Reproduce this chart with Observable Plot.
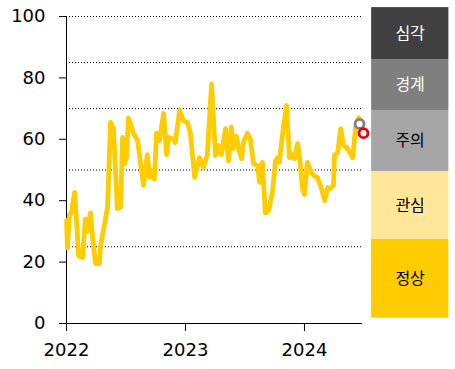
<!DOCTYPE html>
<html>
<head>
<meta charset="utf-8">
<script src="https://cdn.jsdelivr.net/npm/d3@7"></script>
<script src="https://cdn.jsdelivr.net/npm/@observablehq/plot@0.6"></script>
<style>
  html, body { margin: 0; padding: 0; background: #fff; }
</style>
</head>
<body>
<div id="chart"></div>
<script>
// ---- data ----
const dates = [
  "2022-01-01","2022-01-04","2022-01-10","2022-01-16","2022-01-26","2022-02-01","2022-02-07","2022-02-19",
  "2022-02-28","2022-03-06","2022-03-16","2022-03-22","2022-03-31","2022-04-12","2022-04-15","2022-05-07",
  "2022-05-16","2022-05-25","2022-06-06","2022-06-16","2022-06-22","2022-06-28","2022-07-04","2022-07-10",
  "2022-07-25","2022-08-07","2022-08-25","2022-09-06","2022-09-13","2022-09-22","2022-09-28","2022-10-04",
  "2022-10-13","2022-10-26","2022-11-04","2022-11-10","2022-11-25","2022-12-01","2022-12-14","2022-12-26",
  "2023-01-07","2023-01-16","2023-01-29","2023-02-13","2023-02-25","2023-03-09","2023-03-22","2023-04-03",
  "2023-04-12","2023-04-21","2023-05-04","2023-05-13","2023-05-22","2023-05-28","2023-06-06","2023-06-13",
  "2023-06-22","2023-06-28","2023-07-10","2023-07-19","2023-07-29","2023-08-10","2023-08-16","2023-08-25",
  "2023-09-03","2023-09-13","2023-09-25","2023-10-04","2023-10-10","2023-10-16","2023-10-26","2023-11-07",
  "2023-11-16","2023-11-25","2023-12-01","2023-12-11","2023-12-17","2023-12-26","2024-01-01","2024-01-10",
  "2024-01-23","2024-02-01","2024-02-10","2024-02-22","2024-03-03","2024-03-12","2024-03-21","2024-03-30",
  "2024-04-02","2024-04-12","2024-04-21","2024-04-30","2024-05-12","2024-05-28","2024-06-06","2024-06-15",
  "2024-06-21"
];
const values = [
  33.5, 24.6, 35.5, 36, 42.7, 33, 22, 21.5,
  34, 30, 36, 28, 19.5, 19.5, 25, 38,
  65.5, 63.5, 37.4, 38, 60.6, 52, 54, 67,
  62, 59.6, 45, 55, 47.6, 50, 47, 62,
  59.6, 68.4, 55, 60.6, 60, 59, 69.4, 66,
  65.5, 62, 47.6, 54, 51, 55, 78, 54.7,
  58, 55, 63.5, 53, 64, 57, 61, 57,
  53.7, 59, 62, 60, 52, 51.5, 46, 52.5,
  36, 36.8, 43, 53, 54, 52.5, 62, 71,
  54, 55, 53.7, 58.6, 54, 44, 42, 52.5,
  49, 48, 47.5, 44, 40, 44.3, 44, 45,
  54.7, 55.7, 63.5, 58, 57, 54, 64, 67,
  66
];
const markerDates = ["2024-06-18", "2024-06-30"];
const markerValues = [65, 62];
const markerNames = ["gray", "red"];

const bandLabels = ["정상", "관심", "주의", "경계", "심각"];
const bandEdges = [1.7, 27.4, 49.5, 69.4, 85.9, 102.9];
const bandColors = ["#FFCC00", "#FFE699", "#A6A6A6", "#7F7F7F", "#404040"];
const bandTextColors = ["#000", "#000", "#000", "#fff", "#fff"];

const gridValues = [25, 50, 70, 85, 100];
const yTicks = [0, 20, 40, 60, 80, 100];
const xTicks = ["2022-01-01", "2023-01-01", "2024-01-01"];

// ---- build tables ----
const series = dates.map((d, i) => ({date: new Date(d), value: values[i]}));
const markers = markerDates.map((d, i) => ({date: new Date(d), value: markerValues[i], name: markerNames[i]}));
const bands = bandLabels.map((label, i) => ({
  label, lo: bandEdges[i], hi: bandEdges[i + 1], mid: (bandEdges[i] + bandEdges[i + 1]) / 2,
  fill: bandColors[i], textFill: bandTextColors[i]
}));

const xStart = new Date("2022-01-01");
const xEnd = new Date("2024-06-27");
const bandX1 = new Date("2024-07-25");
const bandX2 = new Date("2025-03-19");
const bandXMid = new Date("2024-11-20");

const chart = Plot.plot({
  width: 455,
  height: 369,
  marginLeft: 66,
  marginRight: 93,
  marginTop: 16,
  marginBottom: 46,
  x: {type: "utc", domain: [xStart, xEnd]},
  y: {domain: [0, 100]},
  color: {type: "identity"},
  style: {fontFamily: "DejaVu Sans", fontSize: "18px", color: "#000", background: "#fff", overflow: "visible"},
  marks: [
    Plot.rect(bands, {x1: () => bandX1, x2: () => bandX2, y1: "lo", y2: "hi", fill: "fill"}),
    Plot.text(bands, {x: () => bandXMid, y: "mid", text: "label", fill: "textFill",
      fontFamily: "Noto Sans CJK KR", fontSize: 16}),
    Plot.ruleY(gridValues, {stroke: "#000", strokeDasharray: "1,2", strokeWidth: 1}),
    Plot.ruleY([0], {stroke: "#000", strokeWidth: 1}),
    Plot.ruleX([xStart], {y1: 0, y2: 100, stroke: "#000", strokeWidth: 1}),
    Plot.axisY({ticks: yTicks, tickSize: 7, tickPadding: 14, label: null, fontSize: 18}),
    Plot.axisX({ticks: xTicks.map(d => new Date(d)), tickFormat: d3.utcFormat("%Y"),
      tickSize: 8, tickPadding: 12, label: null, fontSize: 18}),
    Plot.line(series, {x: "date", y: "value", stroke: "#FFCC00", strokeWidth: 4.8,
      strokeLinejoin: "round", strokeLinecap: "round"}),
    Plot.dot(markers, {x: "date", y: "value", r: 4.5, fill: "#fff", strokeWidth: 2.8,
      stroke: d => d.name === "gray" ? "#7F7F7F" : "#E8000B"})
  ]
});
document.getElementById("chart").appendChild(chart);
</script>
</body>
</html>
